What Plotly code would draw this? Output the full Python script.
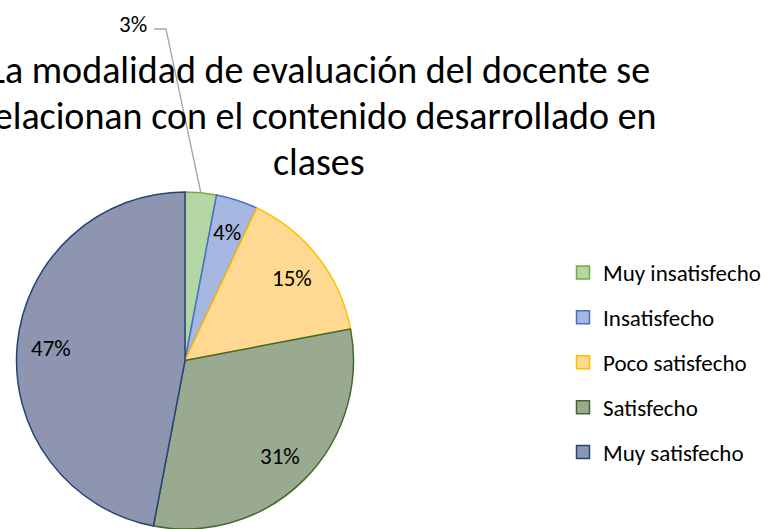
import math
import plotly.graph_objects as go

# ---- data ----
labels = ["Muy insatisfecho", "Insatisfecho", "Poco satisfecho", "Satisfecho", "Muy satisfecho"]
values = [3, 4, 15, 31, 47]
title_lines = [
    "La modalidad de evaluación del docente se",
    "relacionan con el contenido desarrollado en",
    "clases",
]

# ---- style ----
fill_colors = ["#B4D6A5", "#A6B7E1", "#FFD891", "#9AAA90", "#8D95B1"]
line_colors = ["#70AD47", "#4472C4", "#FFC000", "#43682B", "#264478"]
FONT = "Carlito, Lato, sans-serif"

W, H = 773, 529
cx = 185.0
R = 168.5
cy = H - R


def px2paper(x, y):
    return x / W, 1 - y / H


fig = go.Figure()
fig.add_trace(go.Pie(
    labels=labels, values=values, sort=False, direction="clockwise", rotation=0,
    marker=dict(colors=fill_colors, line=dict(color=line_colors, width=1.5)),
    textinfo="none", hoverinfo="label+percent", showlegend=False,
    domain=dict(x=[(cx - R) / W, (cx + R) / W], y=[0, 2 * R / H]),
))

# legend entries (dummy traces so the legend spacing can be controlled)
for lab, fc, lc in zip(labels, fill_colors, line_colors):
    fig.add_trace(go.Scatter(
        x=[None], y=[None], mode="markers", name=lab, legendgroup=lab,
        marker=dict(symbol="square", size=13, color=fc, line=dict(color=lc, width=1.5)),
    ))

annotations = []
shapes = []
total = sum(values)
cum = 0
for i, v in enumerate(values):
    mid = (cum + v / 2) / total * 2 * math.pi
    cum += v
    txt = f"{v}%"
    if v / total < 0.035:
        # outside label with leader line
        ex, ey = cx + R * math.sin(mid), cy - R * math.cos(mid)
        lx, ly = 133, 24
        x0, y0 = px2paper(154, 29)
        x1, y1 = px2paper(166, 29)
        x2, y2 = px2paper(ex, ey)
        shapes.append(dict(type="path", xref="paper", yref="paper",
                           path=f"M {x0},{y0} L {x1},{y1} L {x2},{y2}",
                           line=dict(color="#A6A6A6", width=1.3)))
    else:
        lx, ly = cx + 0.8 * R * math.sin(mid), cy - 0.8 * R * math.cos(mid)
    ax, ay = px2paper(lx, ly)
    annotations.append(dict(x=ax, y=ay, xref="paper", yref="paper", text=txt,
                            showarrow=False, xanchor="center", yanchor="middle",
                            font=dict(family=FONT, size=23, color="#000000")))

for line, yy in zip(title_lines, [70, 116, 162]):
    ax, ay = px2paper(319, yy)
    annotations.append(dict(x=ax, y=ay, xref="paper", yref="paper", text=line,
                            showarrow=False, xanchor="center", yanchor="middle",
                            font=dict(family=FONT, size=38, color="#000000")))

lgx, lgy = px2paper(563, 251)
fig.update_layout(
    width=W, height=H, margin=dict(l=0, r=0, t=0, b=0),
    paper_bgcolor="white", plot_bgcolor="white",
    xaxis=dict(visible=False), yaxis=dict(visible=False),
    showlegend=True,
    legend=dict(x=lgx, y=lgy, xanchor="left", yanchor="top",
                font=dict(family=FONT, size=23, color="#000000"),
                tracegroupgap=12, bgcolor="rgba(0,0,0,0)"),
    annotations=annotations, shapes=shapes,
)

fig.write_html("out.html", config={"displayModeBar": False},
               post_script="document.body.style.margin='0';document.body.style.overflow='hidden';")
